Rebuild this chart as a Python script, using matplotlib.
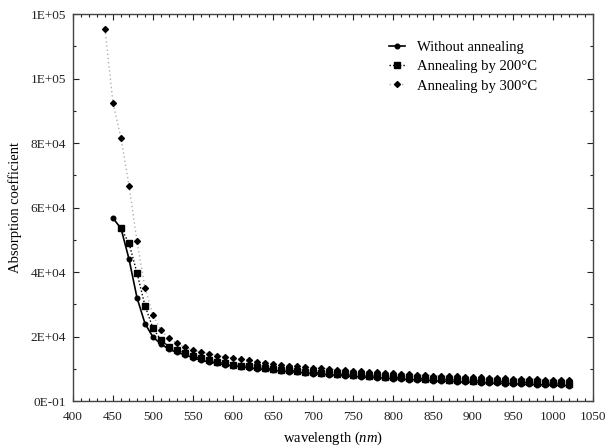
import matplotlib
matplotlib.use("Agg")
import matplotlib.pyplot as plt
from matplotlib.ticker import MultipleLocator, FixedLocator, FixedFormatter

plt.rcParams['font.family'] = ['Liberation Serif', 'DejaVu Serif']
plt.rcParams['mathtext.fontset'] = 'custom'
plt.rcParams['mathtext.it'] = 'Liberation Serif:italic'
plt.rcParams['mathtext.rm'] = 'Liberation Serif'

wl_w = list(range(450, 1021, 10))
without = [56700, 53500, 44000, 32000, 24000, 19800, 17700, 16000, 15100, 14300,
           13400, 12700, 12100, 11700, 11200, 10900, 10600, 10300, 10000, 9800,
           9500, 9300, 9100, 8900, 8700, 8500, 8300, 8150, 8000, 7800,
           7650, 7500, 7350, 7200, 7050, 6900, 6800, 6650, 6550, 6400,
           6300, 6200, 6100, 6000, 5900, 5800, 5700, 5600, 5500, 5400,
           5350, 5250, 5150, 5100, 5000, 4950, 4850, 4800]

wl_200 = list(range(460, 1021, 10))
ann200 = [53600, 48900, 39700, 29500, 22500, 18900, 16800, 15800, 14800, 13900,
          13200, 12600, 12100, 11700, 11300, 11000, 10700, 10400, 10200, 9900,
          9700, 9500, 9300, 9100, 8900, 8750, 8550, 8400, 8250, 8100,
          7950, 7800, 7650, 7550, 7400, 7300, 7150, 7050, 6950, 6850,
          6750, 6650, 6550, 6450, 6350, 6250, 6150, 6100, 6000, 5900,
          5850, 5750, 5700, 5600, 5550, 5450, 5400]

wl_300 = list(range(440, 1021, 10))
ann300 = [115400, 92300, 81500, 66800, 49500, 35100, 26600, 21900, 19400, 17900,
          16600, 15800, 15200, 14700, 14100, 13700, 13300, 12900, 12600, 12200,
          11900, 11600, 11300, 11000, 10800, 10500, 10300, 10100, 9900, 9700,
          9500, 9300, 9150, 9000, 8850, 8700, 8550, 8400, 8300, 8150,
          8050, 7900, 7800, 7700, 7600, 7500, 7400, 7300, 7200, 7100,
          7000, 6950, 6850, 6750, 6700, 6600, 6550, 6450, 6400]

labels = ["Without annealing", "Annealing by 200\u00b0C", "Annealing by 300\u00b0C"]
yticks = [0, 20000, 40000, 60000, 80000, 100000, 120000]
ytick_labels = ["0E-01", "2E+04", "4E+04", "6E+04", "8E+04", "1E+05", "1E+05"]
xticks = list(range(400, 1051, 50))

fig = plt.figure(figsize=(6.06, 4.48), dpi=100)
ax = fig.add_axes([0.1205, 0.1049, 0.858, 0.8638])

ax.plot(wl_w, without, color='black', linestyle='-', linewidth=1.2,
        marker='o', markersize=3.3, label=labels[0])
ax.plot(wl_200, ann200, color='black', linestyle=(0, (1, 1.5)), linewidth=1.0,
        marker='s', markersize=3.8, label=labels[1])
ax.plot(wl_300, ann300, color='#b0b0b0', linestyle=(0, (1, 2)), linewidth=1.0,
        marker='D', markersize=3.0, markerfacecolor='black', markeredgecolor='black',
        label=labels[2])

ax.set_xlim(400, 1050)
ax.set_ylim(0, 120000)
ax.xaxis.set_major_locator(FixedLocator(xticks))
ax.xaxis.set_minor_locator(MultipleLocator(10))
ax.yaxis.set_major_locator(FixedLocator(yticks))
ax.yaxis.set_major_formatter(FixedFormatter(ytick_labels))
ax.yaxis.set_minor_locator(MultipleLocator(10000))

ax.tick_params(which='both', direction='in', top=True, right=True,
               labelsize=9.5, colors='#222222', width=0.8)
ax.tick_params(which='major', length=4)
ax.tick_params(which='minor', length=2)
ax.tick_params(axis='x', pad=7)
ax.tick_params(axis='y', pad=5)
for s in ax.spines.values():
    s.set_color('#444444')
    s.set_linewidth(1.0)

ax.set_xlabel("wavelength ($\\mathit{nm}$)", fontsize=10.5, labelpad=5)
ax.set_ylabel("Absorption coefficient", fontsize=10.5, labelpad=6)

leg = ax.legend(loc='upper right', bbox_to_anchor=(0.918, 0.965), frameon=False,
                fontsize=10.5, handlelength=1.1, handletextpad=0.8, labelspacing=0.42)

fig.savefig("out.png", dpi=100)
